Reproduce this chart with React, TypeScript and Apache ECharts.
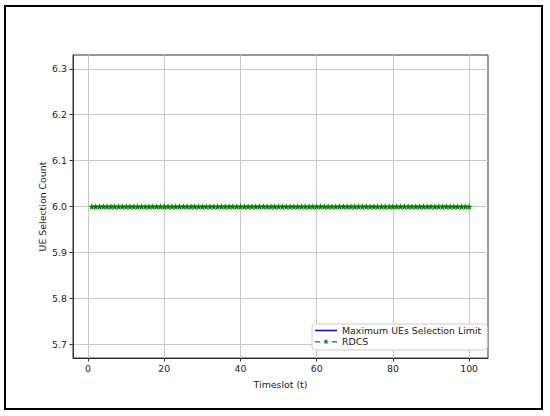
import React, { useEffect, useRef } from "react";
import * as echarts from "echarts";

const timeslots: number[] = Array.from({ length: 100 }, (_, i) => i + 1);
const maxLimit: number[] = [
  6, 6, 6, 6, 6, 6, 6, 6, 6, 6, 6, 6, 6, 6, 6, 6, 6, 6, 6, 6,
  6, 6, 6, 6, 6, 6, 6, 6, 6, 6, 6, 6, 6, 6, 6, 6, 6, 6, 6, 6,
  6, 6, 6, 6, 6, 6, 6, 6, 6, 6, 6, 6, 6, 6, 6, 6, 6, 6, 6, 6,
  6, 6, 6, 6, 6, 6, 6, 6, 6, 6, 6, 6, 6, 6, 6, 6, 6, 6, 6, 6,
  6, 6, 6, 6, 6, 6, 6, 6, 6, 6, 6, 6, 6, 6, 6, 6, 6, 6, 6, 6,
];
const rdcs: number[] = [
  6, 6, 6, 6, 6, 6, 6, 6, 6, 6, 6, 6, 6, 6, 6, 6, 6, 6, 6, 6,
  6, 6, 6, 6, 6, 6, 6, 6, 6, 6, 6, 6, 6, 6, 6, 6, 6, 6, 6, 6,
  6, 6, 6, 6, 6, 6, 6, 6, 6, 6, 6, 6, 6, 6, 6, 6, 6, 6, 6, 6,
  6, 6, 6, 6, 6, 6, 6, 6, 6, 6, 6, 6, 6, 6, 6, 6, 6, 6, 6, 6,
  6, 6, 6, 6, 6, 6, 6, 6, 6, 6, 6, 6, 6, 6, 6, 6, 6, 6, 6, 6,
];
const xTicks: number[] = [0, 20, 40, 60, 80, 100];
const yTicks: number[] = [5.7, 5.8, 5.9, 6.0, 6.1, 6.2, 6.3];

const STAR =
  "path://M50,0 L61,35 L98,35 L68,57 L79,91 L50,70 L21,91 L32,57 L2,35 L39,35 Z";
const ICON_LINE = "path://M0,4.25 L22,4.25 L22,5.75 L0,5.75 Z";
const ICON_DASH_STAR =
  "path://M0,4.4 L5,4.4 L5,5.6 L0,5.6 Z M17,4.4 L22,4.4 L22,5.6 L17,5.6 Z " +
  "M11,2 L11.71,4.03 L13.85,4.07 L12.14,5.37 L12.76,7.43 L11,6.2 L9.24,7.43 L9.86,5.37 L8.15,4.07 L10.29,4.03 Z";
const FONT = "DejaVu Sans";
const FS = 9.4;
const TXT = "#222";

export default function App() {
  const ref = useRef<HTMLDivElement>(null);
  useEffect(() => {
    if (!ref.current) return;
    const chart = echarts.init(ref.current, undefined, { renderer: "svg" });
    chart.setOption({
      animation: false,
      backgroundColor: "#fff",
      textStyle: { fontFamily: FONT },
      graphic: [
        {
          type: "rect",
          shape: { x: 5, y: 6, width: 537, height: 403 },
          style: { fill: "none", stroke: "#000", lineWidth: 2 },
          silent: true,
          z: 100,
        },
      ],
      grid: {
        left: 73,
        right: 62,
        top: 55,
        bottom: 58,
        show: true,
        borderColor: "#333",
        borderWidth: 1,
        backgroundColor: "transparent",
      },
      legend: {
        orient: "vertical",
        left: 312,
        top: 324,
        padding: [2, 6, 4, 3],
        itemGap: 2,
        itemWidth: 22,
        itemHeight: 10,
        symbolKeepAspect: true,
        backgroundColor: "#fff",
        borderColor: "#ccc",
        borderWidth: 1,
        borderRadius: 3,
        textStyle: { fontFamily: FONT, fontSize: FS, color: TXT },
        data: [
          { name: "Maximum UEs Selection Limit", icon: ICON_LINE },
          { name: "RDCS", icon: ICON_DASH_STAR },
        ],
      },
      xAxis: {
        type: "value",
        min: -3.95,
        max: 104.95,
        name: "Timeslot (t)",
        nameLocation: "middle",
        nameGap: 22,
        nameMoveOverlap: false,
        nameTextStyle: { fontFamily: FONT, fontSize: FS, color: TXT },
        axisLine: { show: true, onZero: false, lineStyle: { color: "#333", width: 1 } },
        axisTick: { show: true, length: 3.5, customValues: xTicks, lineStyle: { color: "#333" } },
        axisLabel: { customValues: xTicks, margin: 6, fontFamily: FONT, fontSize: FS, color: TXT },
        splitLine: { show: true, lineStyle: { color: "#c8c8c8", width: 1 } },
      },
      yAxis: {
        type: "value",
        min: 5.67,
        max: 6.33,
        name: "UE Selection Count",
        nameLocation: "middle",
        nameGap: 26,
        nameMoveOverlap: false,
        nameTextStyle: { fontFamily: FONT, fontSize: FS, color: TXT },
        axisLine: { show: true, onZero: false, lineStyle: { color: "#333", width: 1 } },
        axisTick: { show: true, length: 3.5, customValues: yTicks, lineStyle: { color: "#333" } },
        axisLabel: {
          customValues: yTicks,
          margin: 6,
          fontFamily: FONT,
          fontSize: FS,
          color: TXT,
          formatter: (v: number) => v.toFixed(1),
        },
        splitLine: { show: true, lineStyle: { color: "#c8c8c8", width: 1 } },
      },
      series: [
        {
          name: "Maximum UEs Selection Limit",
          type: "line",
          data: timeslots.map((t, i) => [t, maxLimit[i]]),
          symbol: "none",
          showSymbol: false,
          lineStyle: { color: "#0000ff", width: 1.5 },
          itemStyle: { color: "#0000ff" },
          z: 2,
        },
        {
          name: "RDCS",
          type: "line",
          data: timeslots.map((t, i) => [t, rdcs[i]]),
          symbol: STAR,
          symbolSize: 7,
          showSymbol: true,
          lineStyle: { color: "#008000", width: 1.5, type: "dashed" },
          itemStyle: { color: "#008000" },
          z: 3,
        },
      ],
    });
    return () => chart.dispose();
  }, []);
  return <div ref={ref} style={{ width: 550, height: 416, position: "absolute", left: 0, top: 0 }} />;
}
